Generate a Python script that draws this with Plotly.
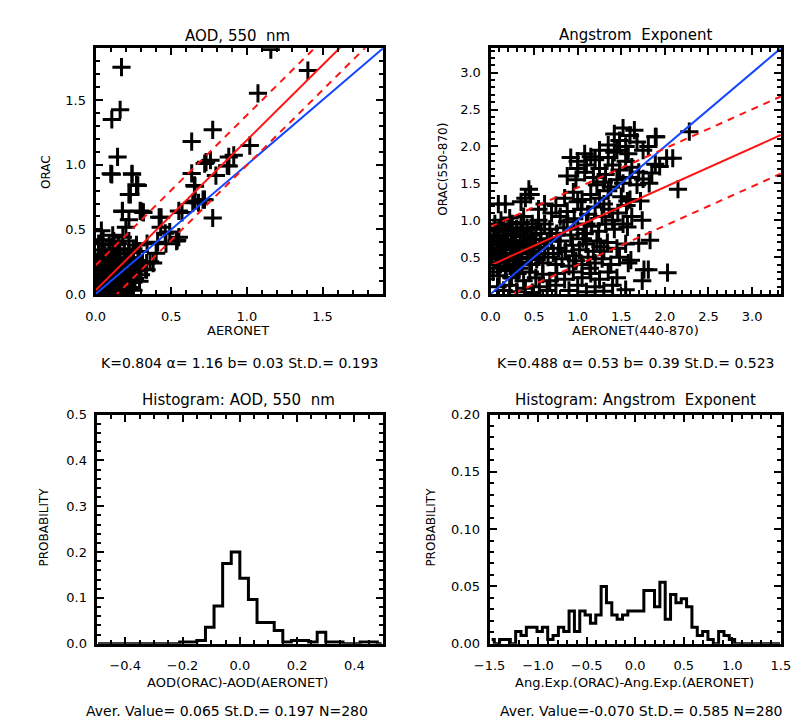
import plotly.graph_objects as go

# ---- AOD 550 nm: AERONET vs ORAC ----
aod_aeronet = [
    0.171, 0.162, 0.107, 0.145, 0.107, 0.241, 0.279, 0.22, 0.177, 0.305, 0.22, 1.158, 1.403,
    1.073, 0.774, 0.635, 1.019, 0.913, 0.759, 0.721, 0.870, 0.795, 0.635, 0.653, 0.774, 0.642,
    0.71, 0.571, 0.433, 0.539, 0.46, 0.41, 0.337, 0.36,
    0.88, 0.73, 0.10, 0.24, 0.88, 0.27, 0.23, 0.657, 0.72, 0.177, 0.294, 0.42, 0.55, 0.2, 0.43,
    0.55, 0.49, 0.535, 0.465, 0.34, 0.4, 0.337, 0.38, 0.24, 0.13, 0.316, 0.657, 0.68, 0.038, 0.113,
    0.01, 0.02, 0.04, 0.05, 0.07, 0.08, 0.10, 0.12, 0.13, 0.15, 0.17, 0.19, 0.22, 0.25,
    0.01, 0.03, 0.04, 0.06, 0.07, 0.09, 0.10, 0.12, 0.14, 0.16, 0.18, 0.20, 0.23, 0.26, 0.29,
    0.01, 0.02, 0.04, 0.05, 0.07, 0.08, 0.09, 0.11, 0.13, 0.15, 0.17, 0.19, 0.21, 0.24, 0.27, 0.30, 0.33,
    0.01, 0.03, 0.05, 0.06, 0.08, 0.10, 0.12, 0.14, 0.16, 0.18, 0.20, 0.22, 0.25, 0.28, 0.31,
    0.02, 0.04, 0.06, 0.09, 0.11, 0.13, 0.16, 0.19, 0.22, 0.25, 0.29,
    0.02, 0.05, 0.09, 0.12, 0.15, 0.18, 0.22, 0.27,
    0.03, 0.06, 0.09, 0.12, 0.15, 0.18, 0.21, 0.24, 0.27, 0.11, 0.14, 0.06, 0.02, 0.13, 0.20, 0.23,
    0.16, 0.19,
]
aod_orac = [
    1.754, 1.425, 1.35, 1.06, 0.926, 0.926, 0.84, 0.77, 0.638, 0.638, 0.575, 1.89, 1.728,
    1.552, 1.27, 1.179, 1.148, 1.073, 1.035, 1.009, 0.992, 0.916, 0.933, 0.840, 0.588, 0.706,
    0.73, 0.631, 0.593, 0.416, 0.47, 0.40, 0.189, 0.25,
    1.06, 1.02, 0.93, 0.93, 0.99, 0.845, 0.77, 0.72, 0.73, 0.643, 0.643, 0.593, 0.643, 0.517, 0.517,
    0.44, 0.48, 0.41, 0.39, 0.39, 0.316, 0.24, 0.24, 0.19, 0.11, 0.631, 0.833, 0.706, 0.49, 0.454,
    0.01, 0.04, 0.00, 0.03, 0.01, 0.04, 0.02, 0.00, 0.05, 0.02, 0.04, 0.01, 0.05, 0.03,
    0.08, 0.10, 0.07, 0.11, 0.08, 0.10, 0.07, 0.11, 0.09, 0.12, 0.08, 0.11, 0.09, 0.12, 0.10,
    0.15, 0.18, 0.14, 0.19, 0.16, 0.13, 0.19, 0.15, 0.18, 0.14, 0.17, 0.15, 0.19, 0.16, 0.18, 0.15, 0.19,
    0.23, 0.26, 0.22, 0.27, 0.24, 0.22, 0.26, 0.23, 0.27, 0.22, 0.25, 0.28, 0.23, 0.26, 0.24,
    0.31, 0.34, 0.30, 0.33, 0.30, 0.35, 0.31, 0.34, 0.32, 0.35, 0.33,
    0.39, 0.42, 0.38, 0.41, 0.39, 0.44, 0.41, 0.38,
    0.03, 0.06, 0.07, 0.13, 0.16, 0.20, 0.21, 0.20, 0.22, 0.05, 0.06, 0.04, 0.12, 0.21, 0.16, 0.13,
    0.09, 0.05,
]
aod_k, aod_a, aod_b, aod_sd = 0.804, 1.16, 0.03, 0.193
aod_max = 1.9

# ---- Angstrom exponent: AERONET(440-870) vs ORAC(550-870) ----
ang_aeronet = [
    0.05, 0.10, 0.15, 0.20, 0.25, 0.30, 0.35, 0.42, 0.48,
    0.04, 0.09, 0.14, 0.19, 0.24, 0.29, 0.34, 0.40, 0.46, 0.52, 0.58,
    0.03, 0.08, 0.13, 0.18, 0.23, 0.28, 0.33, 0.38, 0.44, 0.50, 0.56, 0.62,
    0.06, 0.11, 0.16, 0.21, 0.26, 0.31, 0.36, 0.42, 0.47, 0.53, 0.60, 0.66,
    0.12, 0.22, 0.38, 0.55, 0.62, 0.68, 0.70, 0.02, 0.27, 0.45,
    0.07, 0.17, 0.27, 0.37, 0.12, 0.22, 0.32, 0.42, 0.52, 0.57, 0.65, 0.08, 0.18, 0.28, 0.02,
    0.47, 0.33, 0.15,
    0.03, 0.10, 0.17, 0.24, 0.31, 0.38, 0.45, 0.52, 0.60, 0.68, 0.76, 0.85, 0.95, 1.05, 1.15, 1.25, 1.35, 1.45,
    0.08, 0.15, 0.22, 0.30, 0.40, 0.48, 0.56, 0.65, 0.75, 0.90, 1.00, 1.10, 1.20, 1.30, 1.40, 1.55,
    0.75, 0.82, 0.90, 0.98, 1.05, 1.12, 1.20, 1.28, 1.38, 1.48, 1.58,
    0.78, 0.86, 0.94, 1.02, 1.10, 1.18, 1.26, 1.34, 1.45, 1.55,
    0.76, 0.84, 0.92, 1.00, 1.08, 1.16, 1.24, 1.32, 1.42, 1.52,
    0.80, 0.88, 0.96, 1.04, 1.12, 1.20, 1.28, 1.36, 1.46, 1.56,
    0.85, 0.95, 1.05, 1.15, 1.25, 1.35, 1.50, 1.60,
    0.72, 0.80, 0.95, 1.06, 1.22, 1.14, 1.30, 0.88, 1.10, 1.40, 1.62, 0.75, 1.00, 1.30,
    0.92, 1.00, 1.08, 1.15, 0.88, 0.98, 1.08, 1.18, 1.25, 1.32, 1.40, 1.48, 1.55, 1.62, 1.70,
    1.22, 1.30, 1.38, 1.45, 1.52, 1.60, 1.68, 1.75, 1.82,
    1.25, 1.35, 1.42, 1.48, 1.55, 1.60, 1.65, 1.68, 1.42, 1.52, 1.75, 1.81, 1.89, 1.85, 1.89, 2.02, 1.94,
    1.10, 1.20, 1.35, 1.45, 1.58, 1.00,
    0.17, 0.09, 0.44, 0.46, 0.40, 2.28, 2.15, 1.74, 1.83, 1.70, 1.81, 2.03, 1.74, 1.76, 1.61, 1.57,
    1.57, 1.72, 2.09, 1.90, 0.35, 0.55, 0.62, 0.70,
]
ang_orac = [
    0.95, 0.88, 0.92, 0.85, 0.95, 0.88, 0.97, 0.90, 0.95,
    0.78, 0.72, 0.80, 0.74, 0.81, 0.70, 0.78, 0.72, 0.80, 0.74, 0.82,
    0.62, 0.58, 0.66, 0.60, 0.55, 0.63, 0.57, 0.65, 0.58, 0.63, 0.55, 0.62,
    0.48, 0.42, 0.50, 0.45, 0.40, 0.48, 0.43, 0.50, 0.40, 0.47, 0.42, 0.50,
    1.00, 1.03, 1.05, 1.00, 0.95, 0.88, 0.75, 0.70, 0.66, 0.68,
    0.85, 0.68, 0.52, 0.85, 0.55, 0.90, 0.62, 0.78, 0.88, 0.68, 0.72, 0.35, 0.38, 0.35, 0.52,
    0.55, 0.35, 0.62,
    0.30, 0.25, 0.32, 0.22, 0.28, 0.18, 0.30, 0.22, 0.27, 0.18, 0.28, 0.20, 0.30, 0.22, 0.28, 0.20, 0.30, 0.22,
    0.10, 0.05, 0.12, 0.03, 0.08, 0.02, 0.10, 0.05, 0.12, 0.05, 0.12, 0.03, 0.10, 0.04, 0.12, 0.06,
    0.40, 0.48, 0.38, 0.45, 0.40, 0.50, 0.42, 0.48, 0.40, 0.50, 0.42,
    0.62, 0.58, 0.66, 0.60, 0.68, 0.58, 0.64, 0.70, 0.62, 0.68,
    0.82, 0.90, 0.80, 0.88, 0.82, 0.92, 0.85, 0.95, 0.88, 0.95,
    1.05, 1.12, 1.02, 1.15, 1.08, 1.18, 1.05, 1.15, 1.10, 1.20,
    1.30, 1.38, 1.28, 1.35, 1.30, 1.40, 1.32, 1.28,
    0.55, 0.72, 0.52, 0.75, 0.72, 0.35, 0.58, 0.98, 0.95, 1.00, 1.05, 1.20, 1.25, 1.22,
    1.85, 1.80, 1.90, 1.86, 1.60, 1.55, 1.65, 1.58, 1.70, 1.62, 1.75, 1.68, 1.80, 1.72, 1.65,
    1.48, 1.52, 1.45, 1.55, 1.50, 1.58, 1.48, 1.56, 1.50,
    1.95, 2.02, 1.92, 2.08, 2.00, 2.15, 2.22, 2.06, 2.17, 2.25, 1.95, 2.00, 2.13, 1.64, 1.76, 1.84, 1.73,
    1.75, 1.82, 1.85, 1.95, 1.90, 1.70,
    1.22, 1.22, 1.42, 1.35, 1.30, 2.20, 1.42, 1.00, 0.73, 0.69, 0.33, 0.29, 0.18, 0.33, 0.46, 0.91,
    1.26, 1.26, 1.84, 2.13, 1.25, 1.15, 1.22, 1.10,
]
ang_k, ang_a, ang_b, ang_sd = 0.488, 0.53, 0.39, 0.523
ang_max = 3.33

# ---- histograms (counts per bin, N = 280) ----
n_points = 280
aod_bin_start, aod_bin_width = -0.51, 0.03
aod_counts = [0, 0, 0, 0, 0, 0, 0, 0, 0, 0, 1, 1, 2, 10, 23, 49, 56, 40, 27, 13, 13, 8,
              1, 2, 2, 1, 7, 1, 1, 0, 0, 1, 1, 0]
aod_mean, aod_std = 0.065, 0.197

ang_bin_start, ang_bin_width = -1.506, 0.055
ang_counts = [1, 0, 1, 1, 0, 3, 2, 4, 4, 3, 4, 1, 2, 4, 3, 8, 3, 8, 7, 5, 7, 14, 10, 7, 6,
              7, 8, 8, 8, 13, 13, 9, 15, 6, 12, 10, 11, 9, 4, 2, 3, 1, 0, 3, 2, 1, 0, 0, 0,
              0, 0, 0, 0, 0, 0]
ang_mean, ang_std = -0.070, 0.585

W, H = 809, 723
FONT = "DejaVu Sans"
RED = "rgb(255,20,20)"
BLUE = "rgb(20,70,255)"


def px(x0, x1):
    return [x0 / W, x1 / W]


def py(top, bottom):
    return [1 - bottom / H, 1 - top / H]


def axis_style(dom, anchor, rng, dtick, minor, fmt, standoff):
    return dict(domain=dom, anchor=anchor, range=rng, dtick=dtick, tick0=0,
                tickformat=fmt, showgrid=False, zeroline=False,
                showline=True, linewidth=3, linecolor="black", mirror="allticks",
                ticks="inside", ticklen=7, tickwidth=2, tickcolor="black",
                minor=dict(dtick=minor, ticks="inside", ticklen=4, tickwidth=2, tickcolor="black",
                           showgrid=False),
                tickfont=dict(family=FONT, size=13, color="black"),
                ticklabelstandoff=standoff, fixedrange=True)


fig = go.Figure()

cross = dict(symbol="cross-thin", size=13, color="black", line=dict(width=3, color="black"))


def scatter_panel(xa, ya, xs, ys, a, b, sd, vmax):
    fig.add_trace(go.Scatter(x=xs, y=ys, mode="markers", marker=cross,
                             xaxis=xa, yaxis=ya, showlegend=False))
    ends = [0, vmax]
    fig.add_trace(go.Scatter(x=ends, y=ends, mode="lines", line=dict(color=BLUE, width=2),
                             xaxis=xa, yaxis=ya, showlegend=False))
    fig.add_trace(go.Scatter(x=ends, y=[a * v + b for v in ends], mode="lines",
                             line=dict(color=RED, width=2), xaxis=xa, yaxis=ya, showlegend=False))
    for s in (sd, -sd):
        fig.add_trace(go.Scatter(x=ends, y=[a * v + b + s for v in ends], mode="lines",
                                 line=dict(color=RED, width=2, dash="7px,6px"),
                                 xaxis=xa, yaxis=ya, showlegend=False))


def hist_panel(xa, ya, start, width, counts):
    centers = [start + width * (i + 0.5) for i in range(len(counts))]
    probs = [c / n_points for c in counts]
    fig.add_trace(go.Scatter(x=centers, y=probs, mode="lines", line_shape="hvh",
                             line=dict(color="black", width=3),
                             xaxis=xa, yaxis=ya, showlegend=False))


scatter_panel("x", "y", aod_aeronet, aod_orac, aod_a, aod_b, aod_sd, aod_max)
scatter_panel("x2", "y2", ang_aeronet, ang_orac, ang_a, ang_b, ang_sd, ang_max)
hist_panel("x3", "y3", aod_bin_start, aod_bin_width, aod_counts)
hist_panel("x4", "y4", ang_bin_start, ang_bin_width, ang_counts)

top_y = py(34, 285)
bot_y = py(408, 642)
fig.update_layout(
    width=W, height=H, margin=dict(l=0, r=0, t=0, b=0),
    paper_bgcolor="white", plot_bgcolor="white",
    xaxis=axis_style(px(74, 371), "y", [0, aod_max], 0.5, 0.1, ".1f", 8),
    yaxis=axis_style(top_y, "x", [0, aod_max], 0.5, 0.1, ".1f", 4),
    xaxis2=axis_style(px(482, 782), "y2", [0, ang_max], 0.5, 0.1, ".1f", 8),
    yaxis2=axis_style(top_y, "x2", [0, ang_max], 0.5, 0.1, ".1f", 4),
    xaxis3=axis_style(px(75, 371), "y3", [-0.5, 0.5], 0.2, 0.05, ".1f", 8),
    yaxis3=axis_style(bot_y, "x3", [0, 0.5], 0.1, 0.02, ".1f", 4),
    xaxis4=axis_style(px(481, 782), "y4", [-1.5, 1.5], 0.5, 0.1, ".1f", 8),
    yaxis4=axis_style(bot_y, "x4", [0, 0.2], 0.05, 0.01, ".2f", 4),
)


def label(text, x, y, size=13, angle=0):
    fig.add_annotation(text=text, x=x / W, y=1 - y / H, xref="paper", yref="paper",
                       xanchor="center", yanchor="middle", showarrow=False, textangle=angle,
                       font=dict(family=FONT, size=size, color="black"))


label("AOD, 550  nm", 221, 21, 15)
label("Angstrom  Exponent", 632, 20, 15)
label("Histogram: AOD, 550  nm", 222, 393, 15)
label("Histogram: Angstrom  Exponent", 632, 393, 15)

label("AERONET", 221, 322)
label("AERONET(440-870)", 632, 322)
label("AOD(ORAC)-AOD(AERONET)", 221, 682)
label("Ang.Exp.(ORAC)-Ang.Exp.(AERONET)", 631, 682)

label("ORAC", 22, 160, 12, -90)
label("ORAC(550-870)", 433, 158, 12, -90)
label("PROBABILITY", 21, 523, 12, -90)
label("PROBABILITY", 421, 523, 12, -90)

label(f"K={aod_k:.3f} α= {aod_a:.2f} b= {aod_b:.2f} St.D.= {aod_sd:.3f}", 223, 355, 14)
label(f"K={ang_k:.3f} α= {ang_a:.2f} b= {ang_b:.2f} St.D.= {ang_sd:.3f}", 632, 355, 14)
label(f"Aver. Value= {aod_mean:.3f} St.D.= {aod_std:.3f} N={n_points}", 210, 711, 14)
label(f"Aver. Value={ang_mean:.3f} St.D.= {ang_std:.3f} N={n_points}", 638, 711, 14)

fig.write_html("out.html")
